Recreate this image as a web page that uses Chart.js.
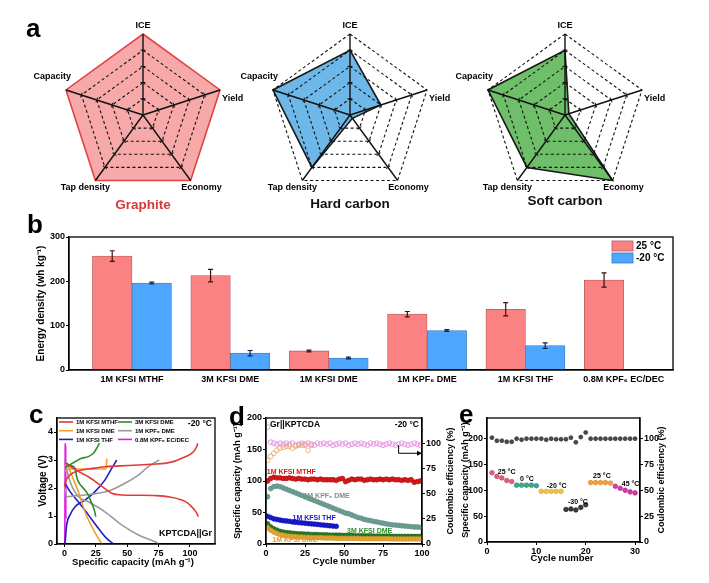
<!DOCTYPE html>
<html><head><meta charset="utf-8">
<script src="https://cdn.jsdelivr.net/npm/chart.js@4.4.1/dist/chart.umd.min.js"></script>
<style>
html,body{margin:0;padding:0;background:#fff}
#wrap{position:relative;width:709px;height:583px;overflow:hidden;background:#fff}
canvas{position:absolute}
.pl{position:absolute;font:bold 26px/26px 'Liberation Sans',Arial,sans-serif;color:#000}
</style></head><body><div id="wrap">
<div class="pl" style="left:26px;top:15px">a</div>
<div class="pl" style="left:27px;top:211px">b</div>
<div class="pl" style="left:29px;top:401px">c</div>
<div class="pl" style="left:229px;top:403px">d</div>
<div class="pl" style="left:459px;top:401px">e</div>
</div>
<script>
// ---------- DATA ----------
// (a) radar scores
const radarAxes = ['ICE','Yield','Economy','Tap density','Capacity'];
const graphiteScores = [1, 1, 1, 1, 1];
const hardCarbonScores = [0.8, 0.4, 0.05, 0.8, 1];
const softCarbonScores = [0.8, 0.05, 1, 0.8, 1];
const radarLevels = [0.2, 0.4, 0.6, 0.8];

// (b) energy density
const bCategories = ['1M KFSI MTHF','3M KFSI DME','1M KFSI DME','1M KPF\u2086 DME','1M KFSI THF','0.8M KPF\u2086 EC/DEC'];
const bSeries = ['25 \u00B0C','-20 \u00B0C'];
const bWarm = [257, 213, 43, 126, 137, 203];
const bWarmErr = [12, 14, 2, 6, 15, 16];
const bCold = [196, 38, 27, 89, 55, null];
const bColdErr = [2, 6, 2, 2, 6, null];
const bTicksX = [1, 2, 3, 4, 5, 6];
const bTicksY = [0, 100, 200, 300];

// (c) voltage profiles [capacity, voltage]
const cMTHF_ch = [[0,2.05],[0.4,2.17],[3,2.40],[7,2.55],[13.7,2.64],[22,2.70],[32,2.76],[45,2.79],[59,2.82],[70,2.85],[80,2.88],[88,2.96],[93.5,3.06],[98,3.15],[101.4,3.24],[104,3.36],[105.4,3.48],[106.2,3.6]];
const cMTHF_dis = [[0.5,2.9],[3,2.82],[10,2.62],[19,2.40],[28,2.12],[34,1.92],[37.6,1.81],[45.6,1.75],[60,1.74],[72,1.73],[84,1.68],[93.5,1.57],[98,1.47],[101.4,1.33],[104,1.2],[105.4,1.10],[106.7,0.98]];
const c3M_ch = [[0.5,2.75],[1.7,2.76],[5,2.85],[8.4,2.94],[13.7,3.06],[19,3.12],[23,3.24],[25.7,3.42],[27.8,3.6]];
const c3M_dis = [[0.5,2.9],[1.7,2.88],[5,2.80],[8.4,2.70],[9.7,2.40],[11,2.23],[15,1.99],[19,1.75],[21.7,1.45],[23.8,1.21],[24.9,0.98]];
const c1M_ch = [[0.5,2.6],[3,2.68],[10,2.68],[20,2.68],[30,2.68],[33.2,2.70],[33.5,2.9],[33.8,3.05]];
const c1M_dis = [[0.5,2.9],[1.7,2.88],[5.7,2.46],[11,1.87],[16.3,1.15],[21.7,0.62],[27,0.2],[29.7,0]];
const cKPF_ch = [[0.5,2.0],[1.7,1.69],[8,1.72],[16.3,1.75],[35,1.89],[48.2,2.17],[58.9,2.46],[66.8,2.76],[75.4,3.0]];
const cKPF_dis = [[0.4,2.94],[4.4,2.23],[11,1.69],[19,1.51],[32.3,1.15],[45.6,0.68],[58.9,0.32],[72.2,0.08],[74.8,0]];
const cTHF_ch = [[0.4,0.02],[1.7,0.68],[4.4,1.04],[8.4,1.33],[16.3,1.57],[24.3,1.87],[32.3,2.29],[37.6,2.70],[41.6,3.0]];
const cTHF_dis = [[0.4,2.17],[4.4,1.87],[11,1.51],[19,1.04],[27,0.56],[33.6,0.2],[38.9,0]];
const cEC_ch = [[0.2,0],[0.4,1.8],[0.6,3.6]];
const cEC_dis = [[0.9,3.5],[1.0,2.0],[1.05,0.9]];
const cTicksX = [0, 25, 50, 75, 100];
const cTicksY = [0, 1, 2, 3, 4];

// (d) cycling at -20 C
const dCycles = [1,3,5,7,9,11,13,15,17,19,21,23,25,27,29,31,33,35,37,39,41,43,45,47,49,51,53,55,57,59,61,63,65,67,69,71,73,75,77,79,81,83,85,87,89,91,93,95,97,99];
const dMTHF = [100,104,106,105,105,104,104,105,104,103,104,103,103,102,103,103,102,103,102,102,102,102,101,103,104,99,101,103,102,103,103,101,102,103,102,102,103,102,103,102,103,102,102,101,102,101,102,98,99,100];
const dKPF = [75,88,91,92,91,89,87,85,83,81,79,77,75,73,71,69,67,65,63,61,59,57,55,53,51,49,48,46,44,42,41,39,38,37,36,35,34,33,32,31,30.5,30,29.5,29,28.5,28,27.5,27,27,26.5];
const dTHF = [44,42,40,39,38,37,36.5,36,35,34.5,34,33.5,33,32.5,32,31.5,31,30.5,30,29.5,29,28.5,28];
const d3M = [32,27,24,22,20,19,18,17.5,17,16.5,16,16,15.5,15.5,15,15,15,14.5,14.5,14.5,14,14,14,14,13.5,13.5,13.5,13.5,13,13,13,13,13,13,12.5,12.5,12.5,12.5,12.5,12.5,12,12,12,12,12,12,12,12,12,12];
const d1M = [26,22,19,17,15,14,13,12.5,12,11.5,11,11,10.5,10.5,10,10,10,10,9.5,9.5,9.5,9.5,9,9,9,9,9,9,9,9,8.5,8.5,8.5,8.5,8.5,8.5,8.5,8.5,8.5,8.5,8,8,8,8,8,8,8,8,8,8];
const dCEPink = [116,101,100,99,100,99,100,99,100,98,99,100,99,100,99,98,100,99,100,99,100,98,99,100,99,100,98,99,100,99,100,99,98,100,99,100,99,98,99,100,99,98,99,100,99,98,99,100,99,98];
const dCEOrange = [83,87,90,93,95,96,97,97,95,97,98,98,98,93,98];
const dTicksX = [0, 25, 50, 75, 100];
const dTicksY = [0, 50, 100, 150, 200];
const dTicksCE = [0, 25, 50, 75, 100];

// (e) rate/temperature test
const eCycles = [1,2,3,4,5,6,7,8,9,10,11,12,13,14,15,16,17,18,19,20,21,22,23,24,25,26,27,28,29,30];
const e25a = [134,127,124,119,117];
const e0 = [110,110,110,110,109];
const eM20 = [98,98,98,98,98];
const eM30 = [63,64,62,67,72];
const e25b = [115,115,115,115,114];
const e45 = [108,104,100,97,95];
const eCE = [101,98,98,97,97,100,99,100,100,100,100,99,100,99.5,99.5,99.5,101,96.5,101.5,106,100,100,100,100,100,100,100,100,100,100];
const eTicksX = [0, 10, 20, 30];
const eTicksY = [0, 50, 100, 150, 200];
const eTicksCE = [0, 25, 50, 75, 100];

// ---------- HELPERS ----------
const FONT = "'Liberation Sans', Arial, Helvetica, sans-serif";
Chart.defaults.font.family = FONT;
Chart.defaults.font.weight = 'bold';
Chart.defaults.color = '#000';
Chart.defaults.animation = false;
Chart.defaults.responsive = false;
Chart.defaults.devicePixelRatio = 1;
Chart.defaults.plugins.legend.display = false;
Chart.defaults.plugins.tooltip.enabled = false;

const wrap = document.getElementById('wrap');
function mk(left, top, w, h){
  const c = document.createElement('canvas');
  c.width = w; c.height = h;
  c.style.left = left + 'px'; c.style.top = top + 'px';
  c.style.width = w + 'px'; c.style.height = h + 'px';
  wrap.insertBefore(c, wrap.firstChild);
  return c;
}
function T(ctx, s, x, y, o){
  o = o || {};
  ctx.save();
  ctx.font = 'bold ' + (o.size || 9) + 'px ' + FONT;
  ctx.fillStyle = o.color || '#000';
  ctx.textAlign = o.align || 'center';
  ctx.textBaseline = o.base || 'middle';
  ctx.translate(x, y);
  if (o.rot) ctx.rotate(o.rot);
  ctx.fillText(s, 0, 0);
  ctx.restore();
}
function ax(pos, min, max, ticks, size, cb, noTicks){
  return {
    type: 'linear', position: pos, min: min, max: max, offset: false,
    afterBuildTicks: s => { s.ticks = ticks.map(v => ({value: v})); },
    afterFit: s => { if (pos === 'bottom') s.height = size; else s.width = size; },
    ticks: {font: {size: 9, weight: 'bold'}, color: '#000', padding: noTicks ? 4 : 1, autoSkip: false, maxRotation: 0, callback: cb || (v => v)},
    grid: {display: !noTicks, drawOnChartArea: false, drawTicks: !noTicks, tickLength: 3, color: '#000', lineWidth: 1},
    border: {display: true, color: '#000', width: 1.3}
  };
}
const frame = {id: 'frame', afterDraw(ch){
  const a = ch.chartArea, ctx = ch.ctx;
  ctx.save(); ctx.strokeStyle = '#000'; ctx.lineWidth = 1.3;
  ctx.strokeRect(a.left, a.top, a.right - a.left, a.bottom - a.top);
  ctx.restore();
}};

// ---------- (a) RADARS ----------
const labelOffsets = [
  {dx: 0, dy: -8, a: 'center'},
  {dx: 2, dy: 9, a: 'left'},
  {dx: 11, dy: 7, a: 'center'},
  {dx: -10, dy: 7, a: 'center'},
  {dx: 5, dy: -13, a: 'right'}
];
function radar(cx, cy, scores, fill, border, title, titleColor, titleDy, hideOuter){
  const W = 300, H = 200, R = 81, ph = (W - 2 * R) / 2, pv = (H - 2 * R) / 2;
  const cv = mk(cx - W / 2, cy - H / 2, W, H);
  new Chart(cv, {
    type: 'radar',
    data: {labels: radarAxes, datasets: [{data: scores, backgroundColor: fill, borderColor: border, borderWidth: 1.6, pointRadius: 0, fill: true}]},
    options: {
      layout: {padding: {left: ph, right: ph, top: pv, bottom: pv}},
      scales: {r: {min: 0, max: 1,
        ticks: {display: false, stepSize: 0.2},
        pointLabels: {display: false},
        grid: {z: 1, lineWidth: 1.1, color: c => (hideOuter && c.index === 5) ? 'rgba(0,0,0,0)' : '#111'},
        border: {dash: [3, 2.5]},
        angleLines: {color: '#111', lineWidth: 1.4}}}
    },
    plugins: [{id: 'rad', afterDraw(ch){
      const s = ch.scales.r, ctx = ch.ctx;
      ctx.save(); ctx.strokeStyle = '#111'; ctx.lineWidth = 1;
      for (let i = 0; i < radarAxes.length; i++){
        radarLevels.forEach(v => {
          const p = s.getPointPositionForValue(i, v);
          const nx = -Math.sin(p.angle), ny = Math.cos(p.angle);
          ctx.beginPath(); ctx.moveTo(p.x - 2.5 * nx, p.y - 2.5 * ny); ctx.lineTo(p.x + 2.5 * nx, p.y + 2.5 * ny); ctx.stroke();
        });
      }
      ctx.restore();
      radarAxes.forEach((t, i) => {
        const p = s.getPointPosition(i, s.drawingArea), o = labelOffsets[i];
        T(ctx, t, p.x + o.dx, p.y + o.dy, {size: 9, align: o.a});
      });
      T(ctx, title, s.xCenter, s.yCenter + titleDy, {size: 13.5, color: titleColor, base: 'alphabetic'});
    }}]
  });
}
radar(143, 115, graphiteScores, '#F7A8A8', '#E04444', 'Graphite', '#D83A3A', 94, true);
radar(350, 115, hardCarbonScores, '#6DB8E8', '#1a1a1a', 'Hard carbon', '#111', 93, false);
radar(565, 115, softCarbonScores, '#6FBF6A', '#1a1a1a', 'Soft carbon', '#111', 90, false);

// ---------- (b) BAR CHART ----------
(function(){
  const cv = mk(0, 215, 709, 180);
  const warm = '#FA8282', warmB = '#B85C5C', cold = '#4DA6FF', coldB = '#3A78B8';
  new Chart(cv, {
    type: 'bar',
    data: {datasets: [
      {label: bSeries[0], data: bCategories.map((c, i) => ({x: bTicksX[i], y: bWarm[i]})), backgroundColor: warm, borderColor: warmB, borderWidth: 0.8, barThickness: 39.5},
      {label: bSeries[1], data: bCategories.map((c, i) => ({x: bTicksX[i], y: bCold[i]})), backgroundColor: cold, borderColor: coldB, borderWidth: 0.8, barThickness: 39.5}
    ]},
    options: {
      layout: {padding: {left: 35, right: 36, top: 22, bottom: 0}},
      scales: {
        x: ax('bottom', 0.36, 6.5, bTicksX, 25, v => bCategories[v - 1] || '', true),
        y: ax('left', 0, 300, bTicksY, 34)
      }
    },
    plugins: [frame, {id: 'berr', afterDraw(ch){
      const ctx = ch.ctx, ys = ch.scales.y, a = ch.chartArea;
      [[bWarm, bWarmErr, '#3a1010'], [bCold, bColdErr, '#0d2340']].forEach((set, di) => {
        const meta = ch.getDatasetMeta(di);
        set[0].forEach((v, i) => {
          if (v == null || set[1][i] == null) return;
          const x = meta.data[i].x, y1 = ys.getPixelForValue(v + set[1][i]), y2 = ys.getPixelForValue(v - set[1][i]);
          ctx.save(); ctx.strokeStyle = set[2]; ctx.lineWidth = 1.2;
          ctx.beginPath(); ctx.moveTo(x, y1); ctx.lineTo(x, y2);
          ctx.moveTo(x - 2.5, y1); ctx.lineTo(x + 2.5, y1);
          ctx.moveTo(x - 2.5, y2); ctx.lineTo(x + 2.5, y2); ctx.stroke(); ctx.restore();
        });
      });
      T(ctx, 'Energy density (wh kg\u207B\u00B9)', 41, (a.top + a.bottom) / 2, {size: 10, rot: -Math.PI / 2});
      const x0 = a.right - 61;
      [[bSeries[0], warm, warmB], [bSeries[1], cold, coldB]].forEach((L, k) => {
        const y0 = a.top + 4 + k * 12;
        ctx.save(); ctx.fillStyle = L[1]; ctx.fillRect(x0, y0, 21, 10);
        ctx.strokeStyle = L[2]; ctx.lineWidth = 0.8; ctx.strokeRect(x0, y0, 21, 10); ctx.restore();
        T(ctx, L[0], x0 + 24, y0 + 5.5, {size: 10, align: 'left'});
      });
    }}]
  });
})();

// ---------- (c) VOLTAGE PROFILES ----------
(function(){
  const cv = mk(0, 400, 230, 183);
  const red = '#E03A3A', green = '#2E8B2E', orange = '#F0A030', gray = '#9A9A9A', blue = '#2020C0', mag = '#E020E0';
  const curves = [[cMTHF_ch, red], [cMTHF_dis, red], [c3M_ch, green], [c3M_dis, green], [c1M_ch, orange], [c1M_dis, orange],
                  [cKPF_ch, gray], [cKPF_dis, gray], [cTHF_ch, blue], [cTHF_dis, blue], [cEC_ch, mag], [cEC_dis, mag]];
  const legendItems = [['1M KFSI MTHF', red], ['3M KFSI DME', green], ['1M KFSI DME', orange], ['1M KPF\u2086 DME', gray], ['1M KFSI THF', blue], ['0.8M KPF\u2086 EC/DEC', mag]];
  new Chart(cv, {
    type: 'line',
    data: {datasets: curves.map(c => ({data: c[0].map(p => ({x: p[0], y: p[1]})), borderColor: c[1], borderWidth: 1.6, pointRadius: 0, cubicInterpolationMode: 'monotone', fill: false}))},
    options: {
      layout: {padding: {left: 0, right: 15, top: 18, bottom: 0}},
      scales: {x: ax('bottom', -6, 120, cTicksX, 39), y: ax('left', 0, 4.5, cTicksY, 57)}
    },
    plugins: [frame, {id: 'ct', afterDraw(ch){
      const ctx = ch.ctx, a = ch.chartArea;
      legendItems.forEach((L, k) => {
        const col = k % 2, row = Math.floor(k / 2);
        const lx = a.left + (col ? 61 : 2), ly = a.top + 4 + row * 8.7;
        ctx.save(); ctx.strokeStyle = L[1]; ctx.lineWidth = 1.6;
        ctx.beginPath(); ctx.moveTo(lx, ly); ctx.lineTo(lx + 14, ly); ctx.stroke(); ctx.restore();
        T(ctx, L[0], lx + 17, ly + 0.5, {size: 6, align: 'left'});
      });
      T(ctx, '-20 \u00B0C', a.right - 3, a.top + 6, {size: 8.5, align: 'right'});
      T(ctx, 'KPTCDA||Gr', a.right - 3, a.bottom - 10, {size: 9, align: 'right'});
      T(ctx, 'Voltage (V)', 43, (a.top + a.bottom) / 2, {size: 10, rot: -Math.PI / 2});
      T(ctx, 'Specific capacity (mAh g\u207B\u00B9)', 133, 162, {size: 9.5});
    }}]
  });
})();

// ---------- (d) CYCLING ----------
(function(){
  const cv = mk(230, 400, 240, 183);
  function pts(arr){ return arr.map((v, i) => ({x: dCycles[i], y: v})); }
  function ds(arr, col, bcol, axis, hollow){
    return {type: 'scatter', data: pts(arr), yAxisID: axis, pointRadius: 2.4, borderWidth: hollow ? 0.9 : 0.7,
      backgroundColor: hollow ? 'rgba(0,0,0,0)' : col, borderColor: bcol, pointBackgroundColor: hollow ? 'rgba(0,0,0,0)' : col, pointBorderColor: bcol};
  }
  new Chart(cv, {
    type: 'scatter',
    data: {datasets: [
      ds(dCEOrange, '#F2C48A', '#E8B070', 'y1', true),
      ds(dCEPink, '#F0A0F0', '#E58CE5', 'y1', true),
      ds(d1M, '#E0A838', '#C89020', 'y', false),
      ds(d3M, '#2A7A2A', '#1E5E1E', 'y', false),
      ds(dKPF, '#6E9E94', '#5A8A80', 'y', false),
      ds(dTHF, '#1818D8', '#1010A0', 'y', false),
      ds(dMTHF, '#D81818', '#B01010', 'y', false)
    ]},
    options: {
      layout: {padding: {left: 0, right: 0, top: 18, bottom: 0}},
      scales: {
        x: ax('bottom', 0, 100, dTicksX, 39),
        y: ax('left', 0, 200, dTicksY, 36),
        y1: ax('right', 0, 125, dTicksCE, 48)
      }
    },
    plugins: [frame, {id: 'dt', afterDraw(ch){
      const ctx = ch.ctx, a = ch.chartArea, xs = ch.scales.x, ys = ch.scales.y, y1 = ch.scales.y1;
      T(ctx, 'Gr||KPTCDA', a.left + 4, a.top + 7, {size: 8.5, align: 'left'});
      T(ctx, '-20 \u00B0C', a.right - 3, a.top + 7, {size: 8.5, align: 'right'});
      T(ctx, '1M KFSI MTHF', xs.getPixelForValue(0.5), ys.getPixelForValue(114), {size: 7, align: 'left', color: '#D81818'});
      T(ctx, '1M KPF\u2086 DME', xs.getPixelForValue(24), ys.getPixelForValue(76), {size: 7, align: 'left', color: '#8A8A8A'});
      T(ctx, '1M KFSI THF', xs.getPixelForValue(17), ys.getPixelForValue(41), {size: 7, align: 'left', color: '#1818D8'});
      T(ctx, '3M KFSI DME', xs.getPixelForValue(52), ys.getPixelForValue(21), {size: 7, align: 'left', color: '#2E8B2E'});
      T(ctx, '1M KFSI DME', xs.getPixelForValue(4), ys.getPixelForValue(7), {size: 7, align: 'left', color: '#E69A28'});
      const ax0 = xs.getPixelForValue(85), yTop = y1.getPixelForValue(98), yBot = y1.getPixelForValue(90), xr = a.right;
      ctx.save(); ctx.strokeStyle = '#000'; ctx.fillStyle = '#000'; ctx.lineWidth = 1;
      ctx.beginPath(); ctx.moveTo(ax0, yTop); ctx.lineTo(ax0, yBot); ctx.lineTo(xr - 4, yBot); ctx.stroke();
      ctx.beginPath(); ctx.moveTo(xr, yBot); ctx.lineTo(xr - 5, yBot - 2.5); ctx.lineTo(xr - 5, yBot + 2.5); ctx.closePath(); ctx.fill();
      ctx.restore();
      T(ctx, 'Specific capacity (mAh g\u207B\u00B9)', 8, (a.top + a.bottom) / 2, {size: 9, rot: -Math.PI / 2});
      T(ctx, 'Coulombic efficiency (%)', 221, (a.top + a.bottom) / 2, {size: 9, rot: -Math.PI / 2});
      T(ctx, 'Cycle number', 114, 161, {size: 9.5});
    }}]
  });
})();

// ---------- (e) TEMPERATURE TEST ----------
(function(){
  const cv = mk(460, 400, 249, 183);
  function grp(arr, start, col, bcol){
    return {data: arr.map((v, i) => ({x: eCycles[start + i], y: v})), yAxisID: 'y', pointRadius: 2.3, borderWidth: 0.7,
      backgroundColor: col, borderColor: bcol, pointBackgroundColor: col, pointBorderColor: bcol};
  }
  new Chart(cv, {
    type: 'scatter',
    data: {datasets: [
      {data: eCE.map((v, i) => ({x: eCycles[i], y: v})), yAxisID: 'y1', pointRadius: 2, borderWidth: 0.7,
        pointBackgroundColor: '#4a4a4a', pointBorderColor: '#333', backgroundColor: '#4a4a4a', borderColor: '#333'},
      grp(e25a, 0, '#E0607A', '#C04860'),
      grp(e0, 5, '#3FA890', '#2E8A74'),
      grp(eM20, 10, '#F2C240', '#D8A828'),
      grp(eM30, 15, '#3a3a3a', '#222'),
      grp(e25b, 20, '#F2A040', '#D88828'),
      grp(e45, 25, '#D83AA8', '#B02888')
    ]},
    options: {
      layout: {padding: {left: 0, right: 0, top: 18, bottom: 0}},
      scales: {
        x: ax('bottom', 0, 31, eTicksX, 41),
        y: ax('left', 0, 240, eTicksY, 27),
        y1: ax('right', 0, 120, eTicksCE, 69)
      }
    },
    plugins: [frame, {id: 'et', afterDraw(ch){
      const ctx = ch.ctx, a = ch.chartArea, xs = ch.scales.x, ys = ch.scales.y;
      [['25 \u00B0C', 2.2, 135], ['0 \u00B0C', 6.7, 122], ['-20 \u00B0C', 12.1, 108], ['-30 \u00B0C', 16.4, 77], ['25 \u00B0C', 21.5, 128], ['45 \u00B0C', 27.3, 112]]
        .forEach(L => T(ctx, L[0], xs.getPixelForValue(L[1]), ys.getPixelForValue(L[2]), {size: 7, align: 'left'}));
      T(ctx, 'Specific capacity (mAh g\u207B\u00B9)', 6, (a.top + a.bottom) / 2, {size: 9, rot: -Math.PI / 2});
      T(ctx, 'Coulombic efficiency (%)', 202, (a.top + a.bottom) / 2, {size: 9, rot: -Math.PI / 2});
      T(ctx, 'Cycle number', 102, 158, {size: 9.5});
    }}]
  });
})();
</script></body></html>
